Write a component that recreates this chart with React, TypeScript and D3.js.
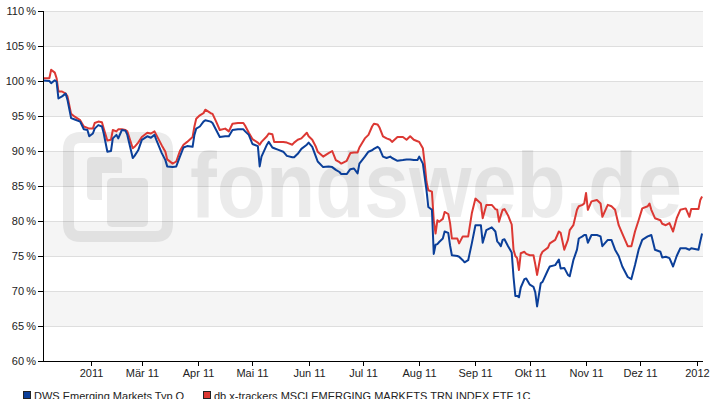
import React from 'react';
import * as d3 from 'd3';

const dates = [
  '2011-01-05', '2011-01-09', '2011-01-10', '2011-01-12', '2011-01-13', '2011-01-14', '2011-01-16', '2011-01-18',
  '2011-01-19', '2011-01-21', '2011-01-23', '2011-01-26', '2011-01-28', '2011-01-30', '2011-01-31', '2011-02-02',
  '2011-02-03', '2011-02-05', '2011-02-07', '2011-02-08', '2011-02-10', '2011-02-12', '2011-02-13', '2011-02-15',
  '2011-02-16', '2011-02-18', '2011-02-20', '2011-02-21', '2011-02-24', '2011-02-25', '2011-02-27', '2011-03-01',
  '2011-03-04', '2011-03-06', '2011-03-08', '2011-03-09', '2011-03-12', '2011-03-14', '2011-03-15', '2011-03-18',
  '2011-03-20', '2011-03-22', '2011-03-24', '2011-03-26', '2011-03-29', '2011-03-30', '2011-03-31', '2011-04-02',
  '2011-04-04', '2011-04-05', '2011-04-08', '2011-04-09', '2011-04-11', '2011-04-13', '2011-04-16', '2011-04-18',
  '2011-04-20', '2011-04-23', '2011-04-26', '2011-04-27', '2011-04-29', '2011-05-01', '2011-05-04', '2011-05-05',
  '2011-05-06', '2011-05-09', '2011-05-10', '2011-05-12', '2011-05-13', '2011-05-15', '2011-05-18', '2011-05-20',
  '2011-05-23', '2011-05-24', '2011-05-26', '2011-05-28', '2011-05-31', '2011-06-01', '2011-06-03', '2011-06-05',
  '2011-06-06', '2011-06-09', '2011-06-12', '2011-06-14', '2011-06-16', '2011-06-18', '2011-06-19', '2011-06-22',
  '2011-06-24', '2011-06-26', '2011-06-28', '2011-06-29', '2011-07-02', '2011-07-04', '2011-07-06', '2011-07-07',
  '2011-07-09', '2011-07-10', '2011-07-12', '2011-07-14', '2011-07-16', '2011-07-17', '2011-07-20', '2011-07-23',
  '2011-07-25', '2011-07-27', '2011-07-29', '2011-07-31', '2011-08-01', '2011-08-03', '2011-08-04', '2011-08-05',
  '2011-08-06', '2011-08-08', '2011-08-09', '2011-08-10', '2011-08-11', '2011-08-12', '2011-08-14', '2011-08-15',
  '2011-08-17', '2011-08-18', '2011-08-19', '2011-08-22', '2011-08-23', '2011-08-25', '2011-08-26', '2011-08-28',
  '2011-08-30', '2011-09-01', '2011-09-04', '2011-09-05', '2011-09-07', '2011-09-10', '2011-09-12', '2011-09-13',
  '2011-09-14', '2011-09-15', '2011-09-16', '2011-09-17', '2011-09-19', '2011-09-21', '2011-09-22', '2011-09-23',
  '2011-09-24', '2011-09-25', '2011-09-26', '2011-09-28', '2011-09-29', '2011-10-01', '2011-10-03', '2011-10-04',
  '2011-10-05', '2011-10-07', '2011-10-08', '2011-10-11', '2011-10-12', '2011-10-15', '2011-10-17', '2011-10-18',
  '2011-10-20', '2011-10-22', '2011-10-23', '2011-10-25', '2011-10-27', '2011-10-28', '2011-10-30', '2011-10-31',
  '2011-11-01', '2011-11-02', '2011-11-04', '2011-11-07', '2011-11-09', '2011-11-10', '2011-11-13', '2011-11-15',
  '2011-11-17', '2011-11-19', '2011-11-21', '2011-11-24', '2011-11-26', '2011-11-28', '2011-11-30', '2011-12-02',
  '2011-12-05', '2011-12-06', '2011-12-07', '2011-12-09', '2011-12-12', '2011-12-13', '2011-12-15', '2011-12-17',
  '2011-12-19', '2011-12-21', '2011-12-23', '2011-12-26', '2011-12-28', '2011-12-29', '2012-01-02', '2012-01-03',
  '2012-01-04',
];

// DWS Emerging Markets Typ O (in % of start value)
const dwsValues = [
  100.1, 100.0, 99.7, 100.1, 99.9, 97.5, 97.8, 98.2,
  97.3, 94.7, 94.5, 94.2, 93.1, 93.0, 92.1, 92.5,
  93.2, 93.7, 93.5, 92.5, 89.9, 90.0, 91.8, 92.3,
  91.8, 93.0, 92.9, 92.3, 89.0, 89.3, 90.1, 91.6,
  92.1, 91.9, 92.3, 91.6, 89.7, 88.7, 87.8, 87.7,
  87.8, 89.2, 90.5, 90.7, 90.6, 92.3, 93.2, 93.5,
  94.2, 94.4, 94.2, 94.0, 93.0, 92.0, 92.1, 92.1,
  93.0, 93.1, 93.1, 92.8, 92.3, 91.0, 90.7, 87.8,
  89.2, 90.9, 91.3, 90.5, 90.4, 90.2, 89.9, 89.3,
  89.1, 89.1, 89.6, 90.3, 90.9, 91.2, 90.6, 89.2,
  88.5, 87.7, 87.8, 87.7, 87.3, 87.0, 86.7, 86.7,
  87.4, 87.5, 86.8, 88.2, 89.2, 89.9, 90.1, 90.3,
  90.6, 90.4, 89.2, 89.0, 89.2, 89.0, 88.6, 88.7,
  88.8, 88.8, 88.7, 88.7, 89.2, 88.2, 86.3, 84.4,
  82.0, 81.6, 75.3, 76.6, 76.7, 77.0, 77.5, 78.5,
  78.3, 76.5, 75.1, 75.0, 74.9, 74.4, 74.1, 74.4,
  76.8, 79.4, 79.4, 76.9, 78.7, 79.1, 78.5, 77.1,
  76.8, 76.4, 77.3, 77.4, 76.4, 75.5, 72.0, 69.3,
  69.3, 69.1, 70.5, 71.7, 71.8, 70.9, 70.6, 69.8,
  67.8, 71.1, 71.3, 73.0, 73.5, 73.7, 74.5, 73.2,
  73.3, 72.3, 72.1, 74.4, 75.9, 77.5, 77.8, 78.0,
  78.0, 76.9, 78.0, 78.0, 77.8, 76.4, 77.3, 77.3,
  75.9, 75.0, 73.5, 72.0, 71.7, 73.7, 75.9, 77.3,
  77.8, 77.9, 78.0, 75.9, 75.6, 74.8, 74.9, 74.7,
  73.5, 75.0, 76.1, 76.1, 75.9, 76.1, 75.9, 77.1,
  78.2,
];

// db x-trackers MSCI EMERGING MARKETS TRN INDEX ETF 1C (in % of start value)
const dbValues = [
  100.4, 100.4, 101.6, 101.2, 100.4, 98.5, 98.5, 98.2,
  97.8, 95.3, 94.9, 94.4, 93.5, 93.3, 93.2, 93.2,
  94.0, 94.2, 94.1, 93.2, 91.5, 91.6, 93.0, 92.8,
  93.1, 93.1, 93.0, 92.8, 90.4, 90.6, 91.2, 92.0,
  92.6, 92.5, 92.8, 92.3, 90.8, 89.9, 88.8, 88.2,
  88.5, 90.0, 90.9, 91.3, 92.0, 93.5, 94.6, 95.1,
  95.4, 95.9, 95.4, 95.3, 94.2, 93.0, 93.2, 92.8,
  93.9, 94.0, 94.0, 93.6, 92.6, 91.7, 91.2, 90.9,
  91.3, 92.1, 92.5, 92.4, 91.3, 91.3, 91.3, 91.2,
  90.9, 91.2, 91.6, 91.8, 92.6, 92.1, 91.6, 90.6,
  89.9, 89.2, 89.7, 90.0, 88.7, 88.4, 88.2, 88.6,
  89.7, 89.8, 89.8, 90.5, 91.8, 92.3, 93.5, 93.9,
  93.8, 93.4, 92.1, 91.8, 91.6, 91.3, 92.0, 92.0,
  91.6, 92.1, 91.6, 91.4, 91.3, 90.4, 88.2, 85.6,
  84.4, 84.2, 80.1, 78.2, 80.1, 79.9, 80.3, 81.3,
  81.0, 79.7, 77.5, 77.5, 76.8, 77.8, 77.8, 77.8,
  81.1, 83.2, 82.5, 80.4, 82.3, 82.3, 81.7, 81.6,
  79.9, 80.8, 81.6, 81.7, 80.8, 79.5, 75.9, 75.0,
  74.7, 73.0, 75.4, 75.6, 75.3, 75.1, 75.1, 73.8,
  72.3, 75.1, 75.6, 76.2, 76.8, 77.3, 78.5, 78.3,
  75.9, 77.3, 78.7, 79.4, 81.6, 82.1, 82.3, 82.5,
  84.0, 81.6, 82.8, 83.0, 82.5, 80.6, 82.3, 82.1,
  81.6, 79.4, 78.2, 76.4, 76.4, 78.5, 80.1, 81.8,
  82.1, 82.5, 81.6, 80.4, 80.1, 79.6, 79.4, 79.7,
  78.5, 80.4, 81.6, 81.8, 80.6, 81.7, 81.7, 83.0,
  83.5,
];

const seriesNames = ['DWS Emerging Markets Typ O', 'db x-trackers MSCI EMERGING MARKETS TRN INDEX ETF 1C'];
const seriesColors = ['#0b3f99', '#dc3833'];

const tickDates = [
  '2011-02-01', '2011-03-01', '2011-04-01', '2011-05-01', '2011-06-01', '2011-07-01',
  '2011-08-01', '2011-09-01', '2011-10-01', '2011-11-01', '2011-12-01', '2012-01-01',
];
const tickLabels = ['2011', 'Mär 11', 'Apr 11', 'Mai 11', 'Jun 11', 'Jul 11', 'Aug 11', 'Sep 11', 'Okt 11', 'Nov 11', 'Dez 11', '2012'];
const yTicks = [60, 65, 70, 75, 80, 85, 90, 95, 100, 105, 110];

const width = 712;
const height = 399;
const margin = { top: 11, right: 9, bottom: 38, left: 43 };
const font = '"Liberation Sans", Arial, sans-serif';

export default function App() {
  const parse = d3.timeParse('%Y-%m-%d');
  const days = dates.map(d => parse(d) as Date);

  const x = d3.scaleTime()
    .domain([new Date(2011, 0, 5, 12), new Date(2012, 0, 4, 12)])
    .range([margin.left, width - margin.right]);
  const y = d3.scaleLinear()
    .domain([60, 110])
    .range([height - margin.bottom, margin.top]);

  const x0 = margin.left;
  const x1 = width - margin.right;
  const yBottom = height - margin.bottom;

  const line = d3.line<number>()
    .x((_, i) => x(days[i]))
    .y(v => y(v));

  // shaded bands: 65-70, 75-80, 85-90, 95-100, 105-110
  const bands = yTicks.filter(t => t < 110 && (t - 60) % 10 === 5);

  return (
    <div style={{ position: 'absolute', left: 0, top: 0 }}>
      <svg width={width} height={height} style={{ display: 'block', background: '#fff' }}>
        <defs>
          <clipPath id="plot-clip">
            <rect x={x0} y={margin.top - 2} width={x1 - x0} height={yBottom - margin.top + 2} />
          </clipPath>
        </defs>

        {bands.map(b => (
          <rect key={b} x={x0} y={y(b + 5)} width={x1 - x0} height={y(b) - y(b + 5)} fill="#f5f5f5" />
        ))}
        {yTicks.filter(t => t > 60).map(t => (
          <line key={t} x1={x0} x2={x1} y1={y(t) + 0.5} y2={y(t) + 0.5} stroke="#dedede" strokeWidth={1} />
        ))}

        {/* watermark */}
        <g fill="#000" opacity={0.075}>
          <path
            fillRule="evenodd"
            d="M81,132 H155 Q173,132 173,150 V224 Q173,242 155,242 H81 Q63,242 63,224 V150 Q63,132 81,132 Z
               M80,143 Q74,143 74,149 V225 Q74,231 80,231 H156 Q162,231 162,225 V149 Q162,143 156,143 Z"
          />
          <path d="M92,157 H117 Q122,157 122,162 V173 H102 V200 H92 Q87,200 87,195 V162 Q87,157 92,157 Z" />
          <rect x={107} y={178} width={41} height={49} rx={5} />
          <text x={190} y={217} fontFamily={font} fontWeight="bold" fontSize={93}
            textLength={492} lengthAdjust="spacingAndGlyphs">fondsweb.de</text>
        </g>

        <g clipPath="url(#plot-clip)" fill="none" strokeWidth={2} strokeLinejoin="round">
          <path d={line(dbValues) || ''} stroke={seriesColors[1]} />
          <path d={line(dwsValues) || ''} stroke={seriesColors[0]} />
        </g>

        {/* axes */}
        <line x1={x0 + 0.5} x2={x0 + 0.5} y1={margin.top} y2={yBottom + 0.5} stroke="#000" />
        <line x1={x0} x2={x1} y1={yBottom + 0.5} y2={yBottom + 0.5} stroke="#000" />

        {yTicks.map(t => (
          <g key={t}>
            <line x1={x0 - 5} x2={x0} y1={y(t) + 0.5} y2={y(t) + 0.5} stroke="#000" />
            <text x={36} y={y(t) + 4} textAnchor="end" fontFamily={font} fontSize={11} fill="#222">
              {`${t}\u2009%`}
            </text>
          </g>
        ))}

        {tickDates.map((d, i) => {
          const tx = Math.round(x(parse(d) as Date)) + 0.5;
          return (
            <g key={d}>
              <line x1={tx} x2={tx} y1={yBottom} y2={yBottom + 5} stroke="#000" />
              <text x={tx} y={377} textAnchor="middle" fontFamily={font} fontSize={11} fill="#222">
                {tickLabels[i]}
              </text>
            </g>
          );
        })}

        {/* legend */}
        {seriesNames.map((name, i) => {
          const lx = i === 0 ? 23 : 203;
          return (
            <g key={name}>
              <rect x={lx + 0.5} y={391.5} width={7} height={7} fill={seriesColors[i]} stroke="#222" strokeWidth={1} />
              <text x={lx + 11} y={400} fontFamily={font} fontSize={11} fill="#222">{name}</text>
            </g>
          );
        })}
      </svg>
    </div>
  );
}
